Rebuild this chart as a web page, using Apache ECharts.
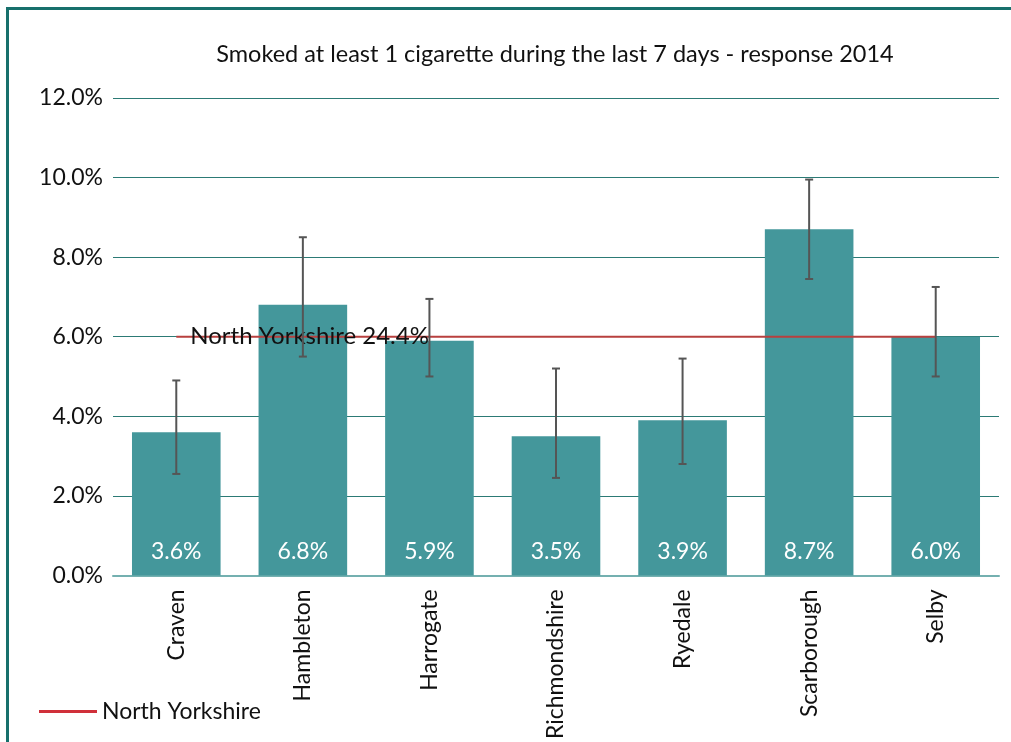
<!DOCTYPE html>
<html>
<head>
<meta charset="utf-8">
<script src="https://cdn.jsdelivr.net/npm/echarts@6/dist/echarts.min.js"></script>
<style>
  html, body { margin: 0; padding: 0; background: #fff; }
  #frame {
    position: absolute; left: 6px; top: 7px; width: 1100px; height: 800px;
    border-left: 3px solid #17706c; border-top: 3px solid #17706c;
  }
  #main { position: absolute; left: 0; top: 0; width: 1011px; height: 742px; }
</style>
</head>
<body>
<div id="frame"></div>
<div id="main"></div>
<script>
  var districts = ['Craven', 'Hambleton', 'Harrogate', 'Richmondshire', 'Ryedale', 'Scarborough', 'Selby'];
  var smoked = [3.6, 6.8, 5.9, 3.5, 3.9, 8.7, 6.0];
  var ciLow = [2.55, 5.5, 5.0, 2.45, 2.8, 7.45, 5.0];
  var ciHigh = [4.9, 8.5, 6.95, 5.2, 5.45, 9.95, 7.25];
  var northYorks = [6.0, 6.0, 6.0, 6.0, 6.0, 6.0, 6.0];
  var northYorksLabel = 'North Yorkshire 24.4%';

  var font = 'Lato, "Open Sans", sans-serif';
  var chart = echarts.init(document.getElementById('main'));

  var errData = districts.map(function (d, i) { return [i, ciLow[i], ciHigh[i]]; });

  var option = {
    backgroundColor: 'transparent',
    textStyle: { fontFamily: font },
    title: {
      text: 'Smoked at least 1 cigarette during the last 7 days - response 2014',
      left: 550, top: 37, textAlign: 'center',
      textStyle: { fontFamily: font, fontSize: 23.5, fontWeight: 'normal', color: '#111' }
    },
    legend: {
      data: ['North Yorkshire'],
      left: 34, top: 695,
      itemWidth: 58, itemHeight: 3, itemGap: 6,
      icon: 'rect',
      textStyle: { fontFamily: font, fontSize: 23, color: '#111' }
    },
    grid: { left: 113, right: 12, top: 98, bottom: 165 },
    xAxis: {
      type: 'category',
      data: districts,
      axisLine: { lineStyle: { color: '#74b0b0', width: 2 } },
      axisTick: { show: false },
      axisLabel: { rotate: 90, margin: 14, fontSize: 23, color: '#111', fontFamily: font }
    },
    yAxis: {
      type: 'value',
      min: 0, max: 12, interval: 2,
      axisLine: { show: false },
      axisTick: { show: false },
      axisLabel: {
        margin: 10, fontSize: 23, color: '#111', fontFamily: font,
        formatter: function (v) { return v.toFixed(1) + '%'; }
      },
      splitLine: { lineStyle: { color: '#2c7a75', width: 1.2 } }
    },
    series: [
      {
        name: 'Smoked',
        type: 'bar',
        data: smoked,
        barWidth: '70%',
        itemStyle: { color: '#44979b' },
        label: {
          show: true, position: 'insideBottom', distance: 12,
          color: '#fff', fontSize: 23, fontFamily: font,
          formatter: function (p) { return p.value.toFixed(1) + '%'; }
        },
        z: 2
      },
      {
        name: 'North Yorkshire',
        type: 'line',
        data: northYorks,
        symbol: 'circle', symbolSize: 0,
        lineStyle: { color: '#b8403f', width: 2 },
        itemStyle: { color: '#d0303a' },
        label: {
          show: true, position: 'right', distance: 14,
          fontSize: 24, color: '#111', fontFamily: font,
          formatter: function (p) { return p.dataIndex === 0 ? northYorksLabel : ''; }
        },
        z: 4
      },
      {
        name: 'CI',
        type: 'custom',
        data: errData,
        z: 5,
        renderItem: function (params, api) {
          var x = api.value(0);
          var lo = api.coord([x, api.value(1)]);
          var hi = api.coord([x, api.value(2)]);
          var cap = 4;
          var style = { stroke: '#555', lineWidth: 2 };
          return {
            type: 'group',
            children: [
              { type: 'line', shape: { x1: hi[0], y1: hi[1], x2: lo[0], y2: lo[1] }, style: style },
              { type: 'line', shape: { x1: hi[0] - cap, y1: hi[1], x2: hi[0] + cap, y2: hi[1] }, style: style },
              { type: 'line', shape: { x1: lo[0] - cap, y1: lo[1], x2: lo[0] + cap, y2: lo[1] }, style: style }
            ]
          };
        }
      }
    ]
  };
  chart.setOption(option);
</script>
</body>
</html>
